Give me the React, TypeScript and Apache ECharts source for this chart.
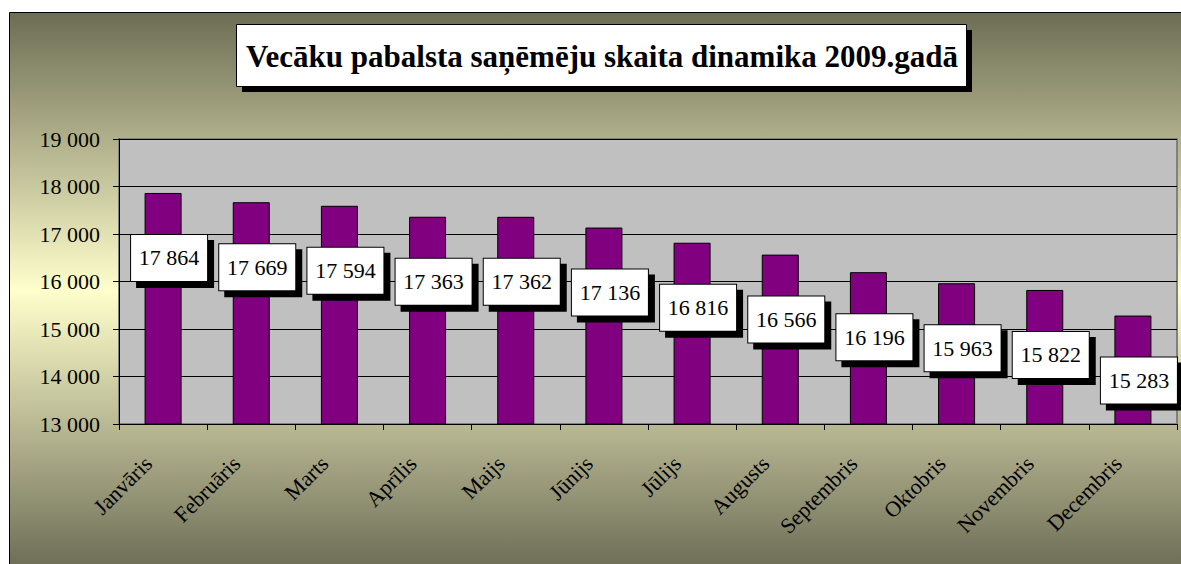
import React, { useEffect, useRef } from "react";
import * as echarts from "echarts";

const titleText = "Vecāku pabalsta saņēmēju skaita dinamika 2009.gadā";
const months = [
  "Janvāris", "Februāris", "Marts", "Aprīlis", "Maijs", "Jūnijs",
  "Jūlijs", "Augusts", "Septembris", "Oktobris", "Novembris", "Decembris",
];
const recipients = [17864, 17669, 17594, 17363, 17362, 17136, 16816, 16566, 16196, 15963, 15822, 15283];
const yMin = 13000;
const yMax = 19000;
const yStep = 1000;

const SERIF = "Liberation Serif";
const fmt = (v: number) => String(Math.round(v)).replace(/\B(?=(\d{3})+(?!\d))/g, " ");

const labelBase = {
  show: true,
  position: ["50%", 65],
  align: "center",
  verticalAlign: "middle",
  fontSize: 22,
  lineHeight: 22,
  fontFamily: SERIF,
  width: 62,
  height: 22,
  overflow: "none",
  borderWidth: 1,
  padding: [10, 7, 14, 7],
};

export default function App() {
  const ref = useRef<HTMLDivElement>(null);
  useEffect(() => {
    if (!ref.current) return;
    const chart = echarts.init(ref.current, null, { renderer: "svg" });
    chart.setOption({
      animation: false,
      graphic: [
        {
          type: "rect",
          z: -10,
          silent: true,
          shape: { x: 9.5, y: 12.5, width: 1200, height: 556 },
          style: {
            fill: new echarts.graphic.LinearGradient(0, 0, 0, 1, [
              { offset: 0, color: "#6d6d55" },
              { offset: 0.5, color: "#ffffcc" },
              { offset: 1, color: "#6d6d57" },
            ]),
            stroke: "#000",
            lineWidth: 1,
          },
        },
        {
          type: "group",
          z: 100,
          children: [
            { type: "rect", shape: { x: 242, y: 30, width: 730, height: 62 }, style: { fill: "#000" } },
            { type: "rect", shape: { x: 236.5, y: 24.5, width: 730, height: 62 }, style: { fill: "#fff", stroke: "#000", lineWidth: 1 } },
            {
              type: "text",
              x: 602,
              y: 56,
              style: {
                text: titleText,
                font: `bold 31px ${SERIF}`,
                fill: "#000",
                align: "center",
                verticalAlign: "middle",
              },
            },
          ],
        },
      ],
      grid: {
        left: 119,
        right: 4,
        top: 139,
        bottom: 140,
        show: true,
        backgroundColor: "#c0c0c0",
        borderColor: "#808080",
        borderWidth: 2,
      },
      xAxis: {
        type: "category",
        data: months,
        axisLine: { show: true, lineStyle: { color: "#000", width: 1 } },
        axisTick: { show: true, length: 6, lineStyle: { color: "#000" } },
        axisLabel: {
          rotate: 45,
          margin: 21,
          padding: [0, 21, 0, 0],
          fontSize: 22,
          fontFamily: SERIF,
          color: "#000",
          interval: 0,
        },
      },
      yAxis: {
        type: "value",
        min: yMin,
        max: yMax,
        interval: yStep,
        axisLine: { show: true, lineStyle: { color: "#000", width: 1 } },
        axisTick: { show: true, length: 6, lineStyle: { color: "#000" } },
        splitLine: { show: true, lineStyle: { color: "#000", width: 1 } },
        axisLabel: {
          margin: 19,
          fontSize: 22,
          fontFamily: SERIF,
          color: "#000",
          formatter: (v: number) => fmt(v),
        },
      },
      series: [
        {
          name: "bars",
          type: "bar",
          data: recipients,
          barWidth: 37,
          barGap: "-100%",
          z: 2,
          itemStyle: { color: "#800080", borderColor: "#000", borderWidth: 1 },
        },
        {
          name: "labelShadow",
          type: "bar",
          data: recipients,
          barWidth: 37,
          barGap: "-100%",
          z: 3,
          silent: true,
          itemStyle: { color: "transparent", borderWidth: 0 },
          label: {
            ...labelBase,
            formatter: () => " ",
            offset: [12, 6],
            color: "#000",
            backgroundColor: "#000",
            borderColor: "#000",
          },
        },
        {
          name: "labelBox",
          type: "bar",
          data: recipients,
          barWidth: 37,
          barGap: "-100%",
          z: 4,
          silent: true,
          itemStyle: { color: "transparent", borderWidth: 0 },
          label: {
            ...labelBase,
            formatter: (p: any) => fmt(p.value),
            offset: [6, 0],
            color: "#000",
            backgroundColor: "#fff",
            borderColor: "#000",
          },
        },
      ],
    });
    return () => chart.dispose();
  }, []);
  return (
    <div
      ref={ref}
      style={{ position: "fixed", left: 0, top: 0, width: 1181, height: 564, background: "#fff" }}
    />
  );
}
